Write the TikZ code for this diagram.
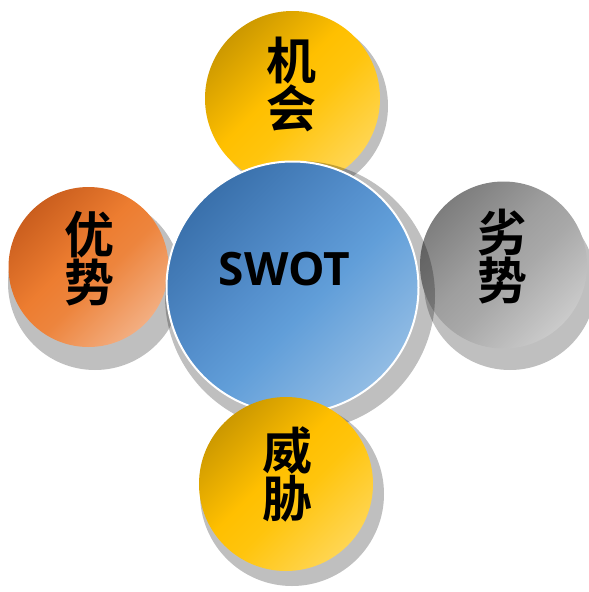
\documentclass[tikz,border=0pt]{standalone}
\usepackage{fontspec}
\newfontfamily\cjk{Noto Sans CJK SC}[BoldFont={Noto Sans CJK SC Bold}]
\newfontfamily\latinbold{Open Sans}[BoldFont={Open Sans Bold}]
\usetikzlibrary{shadings}
\pgfdeclarehorizontalshading{goldshade}{100bp}{%
  rgb(0bp)=(0.75,0.56,0);rgb(20bp)=(0.75,0.56,0);rgb(45bp)=(1,0.75,0);rgb(55bp)=(1,0.77,0.05);rgb(82bp)=(1,0.86,0.42);rgb(100bp)=(1,0.86,0.42)}
\pgfdeclarehorizontalshading{orangeshade}{100bp}{%
  rgb(0bp)=(0.76,0.34,0.10);rgb(20bp)=(0.76,0.34,0.10);rgb(45bp)=(0.93,0.49,0.19);rgb(55bp)=(0.93,0.52,0.24);rgb(82bp)=(0.96,0.74,0.60);rgb(100bp)=(0.96,0.74,0.60)}
\pgfdeclarehorizontalshading{grayshade}{100bp}{%
  rgb(0bp)=(0.46,0.46,0.46);rgb(20bp)=(0.46,0.46,0.46);rgb(45bp)=(0.62,0.62,0.62);rgb(55bp)=(0.66,0.66,0.66);rgb(82bp)=(0.84,0.84,0.84);rgb(100bp)=(0.84,0.84,0.84)}
\pgfdeclarehorizontalshading{blueshade}{100bp}{%
  rgb(0bp)=(0.20,0.41,0.64);rgb(20bp)=(0.20,0.41,0.64);rgb(45bp)=(0.33,0.56,0.80);rgb(55bp)=(0.38,0.62,0.85);rgb(82bp)=(0.64,0.78,0.91);rgb(100bp)=(0.64,0.78,0.91)}
\tikzset{
  shadowdisc/.style={fill=black, fill opacity=0.25, draw=none},
  golddisc/.style={shading=goldshade, shading angle=-45, draw=none},
  orangedisc/.style={shading=orangeshade, shading angle=-45, draw=none},
  graydisc/.style={shading=grayshade, shading angle=-45, draw=none},
  bluedisc/.style={shading=blueshade, shading angle=-45, draw=white, line width=2pt},
  cjklabel/.style={font=\cjk\bfseries\fontsize{50}{48}\selectfont, align=center, text=black, inner sep=0pt},
  swotlabel/.style={font=\latinbold\bfseries\fontsize{46}{46}\selectfont, text=black, inner sep=0pt}
}
\begin{document}
\begin{tikzpicture}[x=1pt,y=-1pt]
\useasboundingbox (0,0) rectangle (589,592);
% top: opportunities
\fill[shadowdisc] (300,106) circle (88);
\path[golddisc] (292.5,98.5) circle (87.5);
% left: strengths
\fill[shadowdisc] (95,283) circle (87);
\path[orangedisc] (88.5,267) circle (80);
% right: weaknesses
\fill[shadowdisc] (510,284) circle (86);
\path[graydisc] (503.5,265) circle (83.5);
% centre
\fill[shadowdisc] (300,296) circle (135);
\path[bluedisc] (292.5,287.5) circle (126);
% bottom: threats
\fill[shadowdisc] (292,494) circle (92);
\path[golddisc] (286,484) circle (87);
% labels
\node[cjklabel] (o) at (291,84) {机\\会};
\node[cjklabel] (s) at (89,258.5) {优\\势};
\node[cjklabel] (w) at (502.5,256.5) {劣\\势};
\node[cjklabel] (t) at (287,474) {威\\胁};
\node[swotlabel] (c) at (284.5,269) {SWOT};
\end{tikzpicture}
\end{document}
